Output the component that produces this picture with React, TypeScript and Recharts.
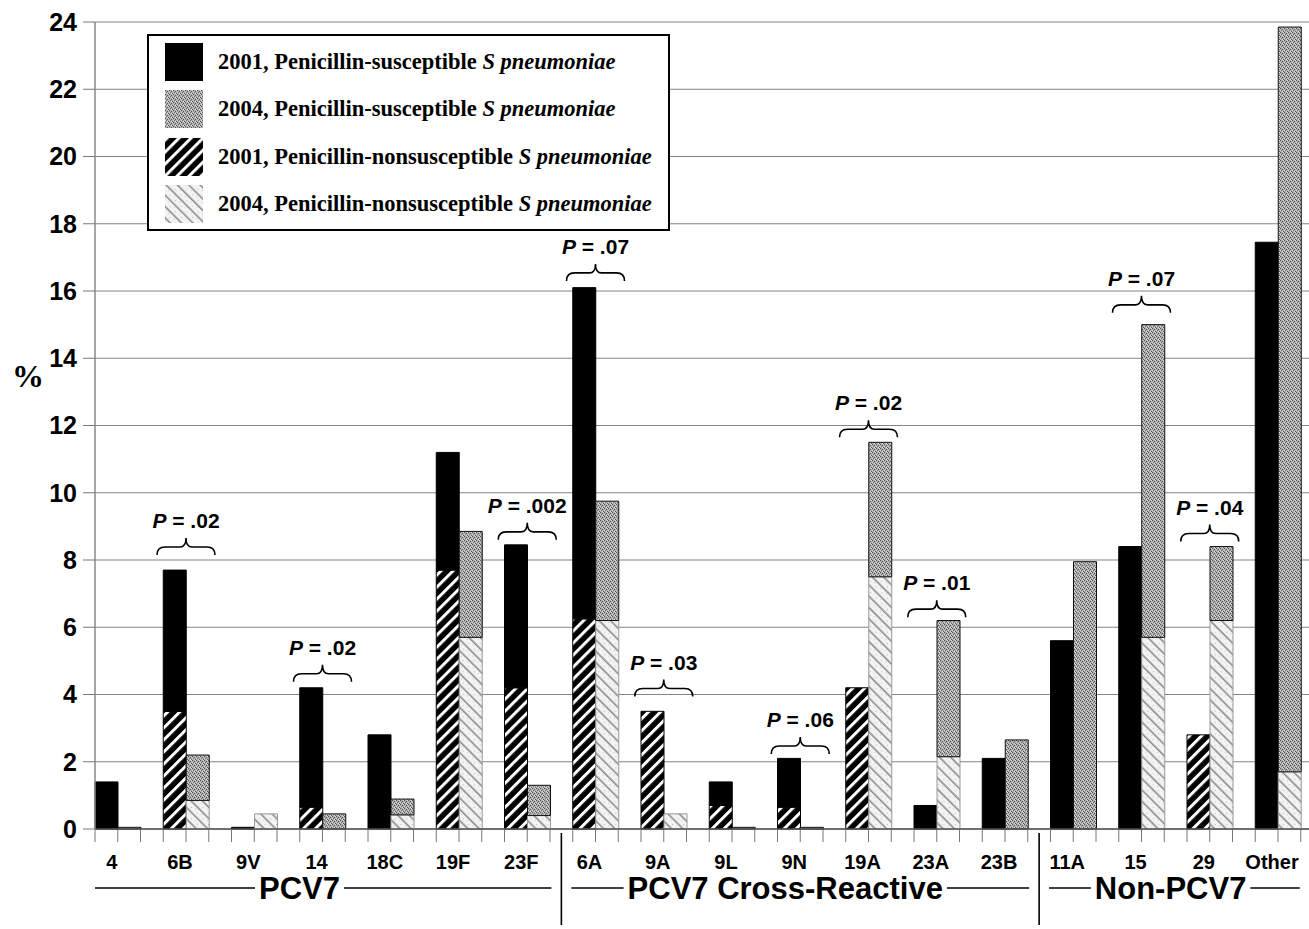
import { BarChart, Bar, XAxis, YAxis, CartesianGrid, Legend, ReferenceDot } from 'recharts';

const SEROTYPES = ['4', '6B', '9V', '14', '18C', '19F', '23F', '6A', '9A', '9L', '9N', '19A', '23A', '23B', '11A', '15', '29', 'Other'];
const NONSUS_2001 = [0, 3.5, 0, 0.65, 0, 7.7, 4.2, 6.25, 3.5, 0.7, 0.65, 4.2, 0, 0, 0, 0, 2.8, 0];
const SUS_2001 = [1.4, 4.2, 0.05, 3.55, 2.8, 3.5, 4.25, 9.85, 0, 0.7, 1.45, 0, 0.7, 2.1, 5.6, 8.4, 0, 17.45];
const NONSUS_2004 = [0, 0.85, 0.45, 0, 0.42, 5.7, 0.4, 6.2, 0.45, 0, 0, 7.5, 2.15, 0, 0, 5.7, 6.2, 1.7];
const SUS_2004 = [0.05, 1.35, 0, 0.45, 0.47, 3.15, 0.9, 3.55, 0, 0.05, 0.05, 4.0, 4.05, 2.65, 7.95, 9.3, 2.2, 22.15];
const Y_TICKS = [0, 2, 4, 6, 8, 10, 12, 14, 16, 18, 20, 22, 24];

const GROUPS = [
  { name: 'PCV7', start: 0, count: 7 },
  { name: 'PCV7 Cross-Reactive', start: 7, count: 7 },
  { name: 'Non-PCV7', start: 14, count: 4 },
];

// level = where the bottom of the brace sits, in % units
const P_VALUES = [
  { serotype: '6B', p: '.02', level: 8.15 },
  { serotype: '14', p: '.02', level: 4.38 },
  { serotype: '23F', p: '.002', level: 8.6 },
  { serotype: '6A', p: '.07', level: 16.3 },
  { serotype: '9A', p: '.03', level: 3.94 },
  { serotype: '9N', p: '.06', level: 2.23 },
  { serotype: '19A', p: '.02', level: 11.65 },
  { serotype: '23A', p: '.01', level: 6.3 },
  { serotype: '15', p: '.07', level: 15.35 },
  { serotype: '29', p: '.04', level: 8.55 },
];

const LEGEND_ITEMS = [
  { label: '2001, Penicillin-susceptible', fill: '#000', stroke: '#000' },
  { label: '2004, Penicillin-susceptible', fill: 'url(#stipple)', stroke: 'none' },
  { label: '2001, Penicillin-nonsusceptible', fill: 'url(#hatchDark)', stroke: 'none' },
  { label: '2004, Penicillin-nonsusceptible', fill: 'url(#hatchLight)', stroke: 'none' },
];

const data = SEROTYPES.map((serotype, i) => ({
  serotype,
  nonsus2001: NONSUS_2001[i],
  sus2001: SUS_2001[i],
  nonsus2004: NONSUS_2004[i],
  sus2004: SUS_2004[i],
  gap: 0,
}));

const SLOT = 22.75;
const BAND = SLOT * 3;
const PLOT_LEFT = 95;
const CHART_W = 1330;
const CHART_H = 929;
const SANS = "'Liberation Sans', Arial, sans-serif";
const SERIF = "'Liberation Serif', 'Times New Roman', serif";
const GROUP_LABEL_NUDGE = [-23, -15, -5];
const TICK_LABEL_NUDGE = -6;

function textWidth(text: string, font: string) {
  const ctx = document.createElement('canvas').getContext('2d');
  if (!ctx) return text.length * 16;
  ctx.font = font;
  return ctx.measureText(text).width;
}

function SerotypeTick(props: any) {
  const { x, y, payload, index } = props;
  const left = x - 1.5 * SLOT;
  const marks = [left, left + SLOT, left + 2 * SLOT];
  if (index === SEROTYPES.length - 1) marks.push(left + 3 * SLOT);
  const group = GROUPS.find((g) => g.start === index);
  let groupEls = null;
  if (group) {
    const gi = GROUPS.indexOf(group);
    const isLast = gi === GROUPS.length - 1;
    const lineL = index === 0 ? left : left - SLOT / 2 + 10;
    const groupRight = left + group.count * BAND;
    const lineR = isLast ? groupRight - SLOT - 1 : groupRight - SLOT / 2 - 10;
    const cx = left + SLOT + ((group.count - 1) * BAND) / 2 + GROUP_LABEL_NUDGE[gi];
    const w = textWidth(group.name, `bold 31px ${SANS}`);
    const ly = y + 59;
    groupEls = (
      <g>
        {index > 0 && (
          <line x1={left - SLOT / 2} x2={left - SLOT / 2} y1={y + 4} y2={y + 96} stroke="#000" strokeWidth={1.6} />
        )}
        <line x1={lineL} x2={cx - w / 2 - 4} y1={ly} y2={ly} stroke="#000" strokeWidth={1.4} />
        <line x1={cx + w / 2 + 4} x2={lineR} y1={ly} y2={ly} stroke="#000" strokeWidth={1.4} />
        <text x={cx} y={ly + 11} textAnchor="middle" fontFamily={SANS} fontWeight="bold" fontSize={31} fill="#000">
          {group.name}
        </text>
      </g>
    );
  }
  return (
    <g>
      {marks.map((mx, k) => (
        <line key={k} x1={mx} x2={mx} y1={y + 1} y2={y + 13} stroke="#777" strokeWidth={1} />
      ))}
      <text
        x={x - SLOT / 2 + TICK_LABEL_NUDGE}
        y={y + 40}
        textAnchor="middle"
        fontFamily={SANS}
        fontWeight="bold"
        fontSize={20}
        fill="#000"
      >
        {payload.value}
      </text>
      {groupEls}
    </g>
  );
}

function Brace(props: any) {
  const { cx, cy, p } = props;
  if (cx == null || cy == null) return null;
  const c = cx - SLOT / 2;
  const b = cy;
  const d = `M ${c - 29} ${b} Q ${c - 29} ${b - 8} ${c - 21} ${b - 8} L ${c - 6} ${b - 8} Q ${c} ${b - 8} ${c} ${b - 17} Q ${c} ${b - 8} ${c + 6} ${b - 8} L ${c + 21} ${b - 8} Q ${c + 29} ${b - 8} ${c + 29} ${b}`;
  return (
    <g>
      <path d={d} fill="none" stroke="#000" strokeWidth={1.6} />
      <text x={c} y={b - 27} textAnchor="middle" fontFamily={SANS} fontWeight="bold" fontSize={21} fill="#000">
        <tspan fontStyle="italic">P</tspan>
        {` = ${p}`}
      </text>
    </g>
  );
}

function LegendBox() {
  return (
    <div
      style={{
        width: 523,
        height: 197,
        boxSizing: 'border-box',
        border: '2px solid #000',
        background: '#fff',
        padding: '2px 0 0 16px',
      }}
    >
      {LEGEND_ITEMS.map((item) => (
        <div key={item.label} style={{ height: 47.5, display: 'flex', alignItems: 'center' }}>
          <svg width={38} height={38} style={{ flex: 'none' }}>
            <rect x={0} y={0} width={38} height={38} fill={item.fill} stroke={item.stroke} />
          </svg>
          <span
            style={{
              marginLeft: 15,
              fontFamily: SERIF,
              fontWeight: 'bold',
              fontSize: 22.5,
              color: '#000',
              whiteSpace: 'nowrap',
            }}
          >
            {item.label} <i>S pneumoniae</i>
          </span>
        </div>
      ))}
    </div>
  );
}

export default function App() {
  return (
    <div style={{ position: 'fixed', left: 0, top: 0, width: 1309, height: 929, overflow: 'hidden', background: '#fff' }}>
      <div
        style={{
          position: 'absolute',
          left: 12,
          top: 358,
          fontFamily: SERIF,
          fontWeight: 'bold',
          fontSize: 32,
          color: '#000',
        }}
      >
        %
      </div>
      <BarChart
        width={CHART_W}
        height={CHART_H}
        data={data}
        margin={{ top: 22, right: CHART_W - PLOT_LEFT - BAND * SEROTYPES.length, left: 0, bottom: 40 }}
        barGap={0}
        barCategoryGap={0}
      >
        <defs>
          <pattern id="stipple" width="4" height="4" patternUnits="userSpaceOnUse">
            <rect width="4" height="4" fill="#adadad" />
            <rect x="0" y="0" width="1" height="1" fill="#555" />
            <rect x="2" y="1" width="1" height="1" fill="#5a5a5a" />
            <rect x="1" y="2" width="1" height="1" fill="#707070" />
            <rect x="3" y="3" width="1" height="1" fill="#555" />
            <rect x="3" y="0" width="1" height="1" fill="#dcdcdc" />
            <rect x="0" y="2" width="1" height="1" fill="#d4d4d4" />
            <rect x="2" y="3" width="1" height="1" fill="#e0e0e0" />
          </pattern>
          <pattern id="hatchDark" width="8.5" height="8.5" patternUnits="userSpaceOnUse" patternTransform="rotate(45)">
            <rect width="8.5" height="8.5" fill="#000" />
            <rect width="3" height="8.5" fill="#fff" />
          </pattern>
          <pattern id="hatchLight" width="8" height="8" patternUnits="userSpaceOnUse" patternTransform="rotate(-45)">
            <rect width="8" height="8" fill="#f3f3f3" />
            <rect width="1.6" height="8" fill="#8c8c8c" />
            <rect x="4" y="2" width="1" height="1" fill="#bbb" />
            <rect x="6" y="6" width="1" height="1" fill="#c8c8c8" />
          </pattern>
        </defs>
        <CartesianGrid vertical={false} stroke="#858585" strokeWidth={1} />
        <XAxis
          dataKey="serotype"
          height={60}
          interval={0}
          tickLine={false}
          tickSize={0}
          tickMargin={0}
          axisLine={{ stroke: '#555', strokeWidth: 1.5 }}
          tick={<SerotypeTick />}
        />
        <YAxis
          width={PLOT_LEFT}
          domain={[0, 24]}
          ticks={Y_TICKS}
          interval={0}
          tickSize={12}
          tickMargin={6}
          tickLine={{ stroke: '#777' }}
          axisLine={{ stroke: '#888', strokeWidth: 1.5 }}
          tick={{ fill: '#000', fontSize: 25, fontWeight: 'bold', fontFamily: SANS }}
        />
        <Legend
          layout="vertical"
          align="center"
          verticalAlign="middle"
          content={() => <LegendBox />}
          wrapperStyle={{ position: 'absolute', left: 147, top: 34, width: 523, height: 197 }}
        />
        <Bar dataKey="nonsus2001" stackId="2001" fill="url(#hatchDark)" stroke="#000" strokeWidth={1} isAnimationActive={false} />
        <Bar dataKey="sus2001" stackId="2001" fill="#000" stroke="#000" strokeWidth={1} isAnimationActive={false} />
        <Bar dataKey="nonsus2004" stackId="2004" fill="url(#hatchLight)" stroke="#9a9a9a" strokeWidth={1} isAnimationActive={false} />
        <Bar dataKey="sus2004" stackId="2004" fill="url(#stipple)" stroke="#111" strokeWidth={1} isAnimationActive={false} />
        <Bar dataKey="gap" stackId="gap" fill="none" legendType="none" isAnimationActive={false} />
        {P_VALUES.map((a) => (
          <ReferenceDot
            key={a.serotype}
            x={a.serotype}
            y={a.level}
            r={0}
            isFront
            shape={(props: any) => <Brace {...props} p={a.p} />}
          />
        ))}
      </BarChart>
    </div>
  );
}
